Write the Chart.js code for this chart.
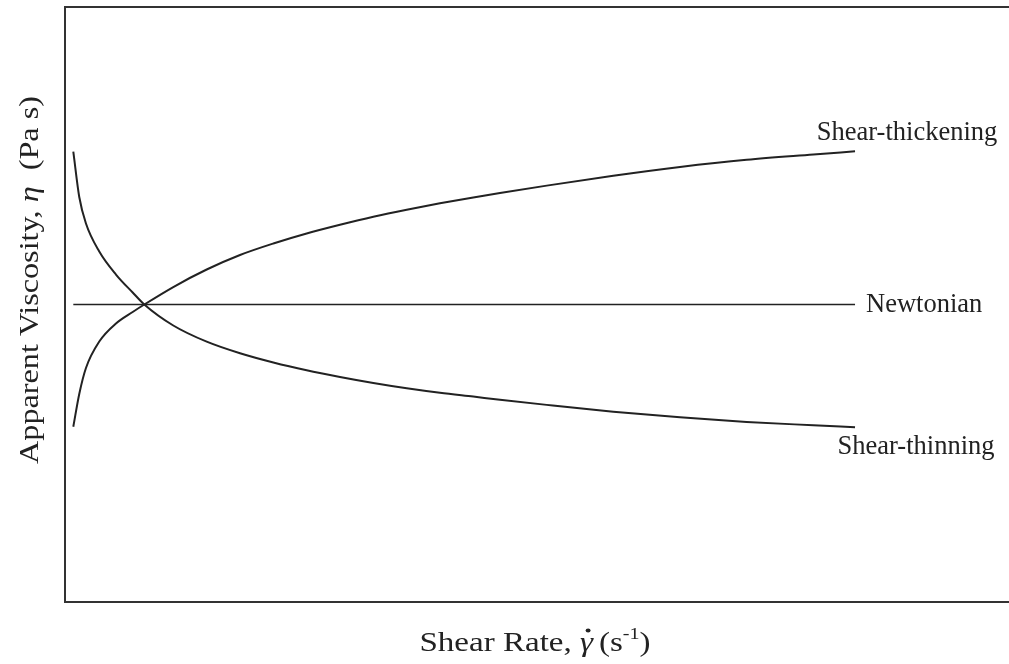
<!DOCTYPE html>
<html>
<head>
<meta charset="utf-8">
<title>Apparent viscosity vs shear rate</title>
<script src="https://cdn.jsdelivr.net/npm/chart.js@4.4.1/dist/chart.umd.min.js"></script>
<style>
  html, body { margin: 0; padding: 0; background: #fff; }
  #wrap { width: 1009px; height: 664px; }
</style>
</head>
<body>
<div id="wrap"><canvas id="flowChart" width="1009" height="664"></canvas></div>
<script>
// shear rate axis runs 0..100, viscosity axis 0..100 (arbitrary units)
const rateX = [0.88, 1.51, 2.22, 3.63, 5.40, 7.17, 8.40, 11.47, 15.01, 18.54, 22.07, 25.60, 29.13, 32.66, 36.20, 39.72, 43.25, 46.08, 51.03, 58.08, 65.15, 72.21, 79.27, 83.69];

const thinY = [75.68, 68.07, 63.61, 58.91, 55.04, 52.02, 50.00, 46.47, 43.75, 41.80, 40.25, 38.94, 37.82, 36.81, 35.92, 35.16, 34.52, 34.00, 33.13, 31.98, 31.04, 30.27, 29.70, 29.36];
const thickY = [29.46, 34.96, 39.33, 43.78, 46.81, 48.74, 50.00, 52.94, 55.88, 58.32, 60.25, 61.93, 63.39, 64.74, 65.93, 67.01, 68.00, 68.74, 69.98, 71.63, 73.11, 74.32, 75.21, 75.75];

const newtX = [0.88, 83.69];
const newtY = [50.00, 50.00];

const curveNames = ["Shear-thickening", "Newtonian", "Shear-thinning"];

const toPoints = (xs, ys) => xs.map((x, i) => ({ x: x, y: ys[i] }));

const SERIF = '"Liberation Serif", "Times New Roman", serif';
const INK = "#222";

// curve names written just past the end of each line
const endLabels = {
    id: "endLabels",
    afterDatasetsDraw(chart) {
        const ctx = chart.ctx;
        const xs = chart.scales.x, ys = chart.scales.y;
        const last = rateX.length - 1;
        ctx.save();
        ctx.fillStyle = INK;
        ctx.font = "26.5px " + SERIF;
        ctx.textBaseline = "middle";
        ctx.textAlign = "center";
        ctx.fillText(curveNames[0], xs.getPixelForValue(rateX[last]) + 52, ys.getPixelForValue(thickY[last]) - 18);
        ctx.textAlign = "left";
        ctx.fillText(curveNames[1], xs.getPixelForValue(newtX[1]) + 11, ys.getPixelForValue(newtY[1]) + 1);
        ctx.textAlign = "center";
        ctx.fillText(curveNames[2], xs.getPixelForValue(rateX[last]) + 61, ys.getPixelForValue(thinY[last]) + 20);
        ctx.restore();
    }
};

// axis titles with italic symbols, drawn piece by piece and a little widened
const axisTitles = {
    id: "axisTitles",
    afterDraw(chart) {
        const ctx = chart.ctx;
        const area = chart.chartArea;
        const normal = "28px " + SERIF;
        const italic = "italic 28px " + SERIF;
        const small = "17px " + SERIF;

        const drawRun = (parts, cx, cy, stretch) => {
            let total = 0;
            parts.forEach(p => { ctx.font = p.font; total += ctx.measureText(p.text).width + (p.gap || 0); });
            ctx.save();
            ctx.translate(cx, cy);
            ctx.scale(stretch, 1);
            let x = -total / 2;
            parts.forEach(p => {
                ctx.font = p.font;
                ctx.fillText(p.text, x, p.dy || 0);
                const w = ctx.measureText(p.text).width;
                if (p.dot) {
                    ctx.beginPath();
                    ctx.arc(x + w * 0.62, -20.5, 2.1, 0, Math.PI * 2);
                    ctx.fill();
                }
                x += w + (p.gap || 0);
            });
            ctx.restore();
        };

        ctx.save();
        ctx.fillStyle = INK;
        ctx.textAlign = "left";
        ctx.textBaseline = "alphabetic";

        drawRun([
            { text: "Shear Rate, ", font: normal },
            { text: "γ", font: italic, dot: true, gap: 5 },
            { text: "(s", font: normal },
            { text: "-1", font: small, dy: -12 },
            { text: ")", font: normal }
        ], (area.left + area.right) / 2 - 2, 651, 1.18);

        ctx.translate(38, 280);
        ctx.rotate(-Math.PI / 2);
        drawRun([
            { text: "Apparent Viscosity, ", font: normal },
            { text: "η", font: italic, gap: 7 },
            { text: " (Pa s)", font: normal }
        ], 0, 0, 1.15);
        ctx.restore();
    }
};

const frameAxis = (pos) => ({
    type: "linear",
    position: pos,
    min: 0,
    max: 100,
    ticks: { display: false },
    grid: { display: false, drawTicks: false },
    border: { display: true, color: "#333", width: 2 }
});

new Chart(document.getElementById("flowChart").getContext("2d"), {
    type: "line",
    data: {
        datasets: [
            { label: curveNames[0], data: toPoints(rateX, thickY), borderColor: INK, borderWidth: 2, cubicInterpolationMode: "monotone" },
            { label: curveNames[1], data: toPoints(newtX, newtY), borderColor: INK, borderWidth: 1.6 },
            { label: curveNames[2], data: toPoints(rateX, thinY), borderColor: INK, borderWidth: 2, cubicInterpolationMode: "monotone" }
        ]
    },
    options: {
        responsive: false,
        animation: false,
        layout: { padding: { left: 65, top: 7, right: 0, bottom: 62 } },
        elements: { point: { radius: 0 } },
        plugins: { legend: { display: false }, tooltip: { enabled: false } },
        scales: {
            x: frameAxis("bottom"),
            xTop: frameAxis("top"),
            y: frameAxis("left")
        }
    },
    plugins: [endLabels, axisTitles]
});
</script>
</body>
</html>
